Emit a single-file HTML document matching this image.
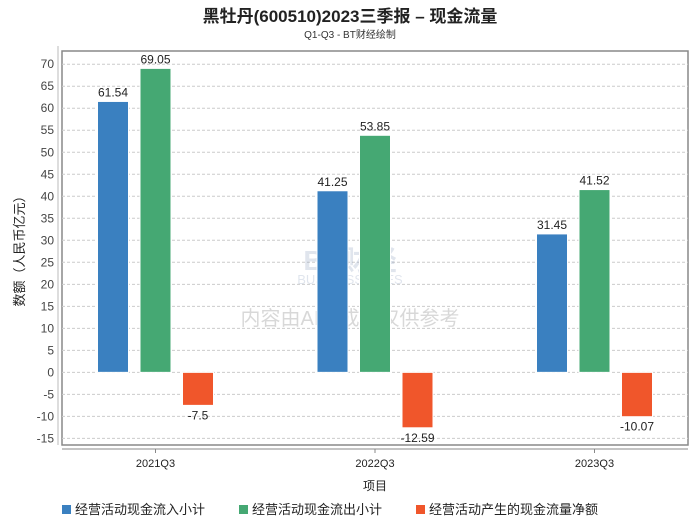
<!DOCTYPE html>
<html><head><meta charset="utf-8"><style>
body{margin:0;background:#fff;}
svg text{font-family:"Liberation Sans","Noto Sans CJK SC",sans-serif;}
</style></head><body>
<svg id="c" width="700" height="524" xmlns="http://www.w3.org/2000/svg">
<text x="350" y="22" text-anchor="middle" font-size="17" font-weight="bold" fill="#222">黑牡丹(600510)2023三季报 – 现金流量</text>
<text x="350" y="38" text-anchor="middle" font-size="10" fill="#333">Q1-Q3 - BT财经绘制</text>
<g id="grid"></g>
<g id="wm" opacity="0.25">
<text x="350" y="270" text-anchor="middle" font-size="28" font-weight="bold" fill="#8899bb">BT财经</text>
<text x="350" y="284" text-anchor="middle" font-size="13" fill="#8899bb">BUSINESSTIMES</text>
<text x="350" y="325" text-anchor="middle" font-size="20" fill="#666">内容由AI生成，仅供参考</text>
</g>
<g id="bars"></g>
<text transform="translate(24,248) rotate(-90)" text-anchor="middle" font-size="13" fill="#222">数额（人民币亿元）</text>
<text x="375" y="490" text-anchor="middle" font-size="12" fill="#222">项目</text>
<g id="legend"></g>
</svg>
<script>
const categories=["2021Q3","2022Q3","2023Q3"];
const inflow=[61.54,41.25,31.45];
const outflow=[69.05,53.85,41.52];
const net=[-7.5,-12.59,-10.07];
const yTicks=[-15,-10,-5,0,5,10,15,20,25,30,35,40,45,50,55,60,65,70];
const seriesNames=["经营活动现金流入小计","经营活动现金流出小计","经营活动产生的现金流量净额"];
const colors=["#3a80c0","#45a873","#f0562b"];
const NS="http://www.w3.org/2000/svg";
const L=62,R=688,T=51,B=445,yMin=-16.5,yMax=73;
const y=v=>T+(yMax-v)/(yMax-yMin)*(B-T);
const xc=i=>155.5+i*219.5;
function mk(t,a,p){const e=document.createElementNS(NS,t);for(const k in a)e.setAttribute(k,a[k]);(p||document.getElementById('c')).appendChild(e);return e;}
const g=document.getElementById('grid');
mk('rect',{x:L,y:T,width:R-L,height:B-T,fill:'none',stroke:'#888','stroke-width':1.5},g);
mk('line',{x1:58,y1:T-5,x2:58,y2:B,stroke:'#bbb'},g);
mk('line',{x1:L,y1:449,x2:R,y2:449,stroke:'#888'},g);
yTicks.forEach(v=>{
 const l=mk('line',{x1:L,x2:R,y1:y(v),y2:y(v),stroke:'#ccc','stroke-dasharray':'3,2'},g);
 
 
 const t=mk('text',{x:54,y:y(v)+4,'text-anchor':'end','font-size':12,fill:'#444'},g);
 t.textContent=v;
 
 
});
categories.forEach((c,i)=>{
 mk('line',{x1:xc(i),x2:xc(i),y1:449,y2:453,stroke:'#888'},g);
 const t=mk('text',{x:xc(i),y:467,'text-anchor':'middle','font-size':11,fill:'#222'},g);
 t.textContent=c;
 
 
});
const bg=document.getElementById('bars');
[inflow,outflow,net].forEach((s,si)=>{
 s.forEach((v,i)=>{
  const x=xc(i)+(si-1)*42.5-15.5;
  const y0=y(0),y1=y(v);
  const r=mk('rect',{x:x,y:Math.min(y0,y1),width:31,height:Math.abs(y1-y0),fill:colors[si],stroke:'#fff','stroke-width':1},bg);
  
  
  const t=mk('text',{x:x+15.5,y:v>=0?y1-5:y1+14,'text-anchor':'middle','font-size':12,fill:'#222'},bg);
  t.textContent=v;
  
  
 });
});
const lg=document.getElementById('legend');
const lx=[62,239,416];
seriesNames.forEach((n,i)=>{
 const r=mk('rect',{x:lx[i],y:505,width:9,height:9,fill:colors[i]},lg);
 
 
 const t=mk('text',{x:lx[i]+13,y:514,'font-size':13,fill:'#222'},lg);
 t.textContent=n;
 
 
});
</script>
</body></html>
